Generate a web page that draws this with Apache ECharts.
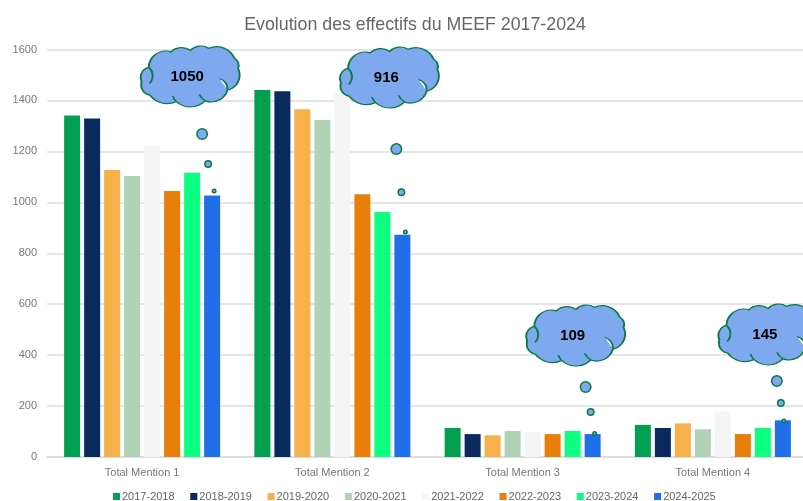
<!DOCTYPE html>
<html>
<head>
<meta charset="utf-8">
<title>Evolution des effectifs du MEEF</title>
<style>
  html, body { margin: 0; padding: 0; background: #fff; }
  #chart { width: 803px; height: 501px; }
</style>
<script src="https://cdn.jsdelivr.net/npm/echarts@6/dist/echarts.min.js"></script>
</head>
<body>
<div id="chart"></div>
<script>
const categories = ['Total Mention 1', 'Total Mention 2', 'Total Mention 3', 'Total Mention 4']
const years = ['2017-2018', '2018-2019', '2019-2020', '2020-2021', '2021-2022', '2022-2023', '2023-2024', '2024-2025']
const colors = ['#00a050', '#0a2a5e', '#f7b04a', '#b0d3b5', '#f5f5f5', '#e87f0a', '#0bff80', '#1f6fe8']

const v2017 = [1341, 1441, 114, 126]
const v2018 = [1329, 1436, 90, 114]
const v2019 = [1127, 1365, 85, 132]
const v2020 = [1103, 1323, 102, 109]
const v2021 = [1222, 1429, 97, 179]
const v2022 = [1044, 1032, 90, 90]
const v2023 = [1116, 962, 102, 114]
const v2024 = [1027, 873, 90, 144]
const allValues = [v2017, v2018, v2019, v2020, v2021, v2022, v2023, v2024]

const yTicks = { min: 0, max: 1600, interval: 200 }

// bulles : texte du nuage, hauteur sur l'axe, decalage par rapport a la derniere barre
const cloudLabels = ['1050', '916', '109', '145']
const cloudY = [1494, 1490, 477, 481]
const cloudDx = [-22, -13, -17, -15]
const bubbleY = [
  [1268, 1150, 1044],
  [1209, 1040, 883],
  [275, 177, 92],
  [298, 212, 141]
]
const bubbleDx = [
  [-10, -4, 2],
  [-6, -1, 3],
  [-7, -2, 2],
  [-6, -2, 1]
]
const bubbleSize = [10.5, 6.5, 3.5]

const cloudPath = 'path://M62 85A48 48 0 0 1 125 42A44 44 0 0 1 180 38A42 42 0 0 1 232 32A56 56 0 0 1 305 60A22 22 0 0 1 315 88' +
  'A42 42 0 0 1 285 148A48 48 0 0 1 222 178A60 60 0 0 1 140 180A62 62 0 0 1 65 162A28 28 0 0 1 42 125A28 28 0 0 1 62 85Z' +
  'M62 85A30 30 0 0 1 64 130M285 148A30 30 0 0 0 262 116M222 178A40 40 0 0 1 205 160M140 180A40 40 0 0 1 130 165'

const marks = []
categories.forEach((cat, i) => {
  marks.push({
    coord: [cat, cloudY[i]],
    symbol: cloudPath,
    symbolSize: [99, 61],
    symbolOffset: [cloudDx[i], 0],
    itemStyle: { color: '#7fa9ee', borderColor: '#0a7a48', borderWidth: 1.5 },
    label: {
      show: true, formatter: cloudLabels[i], position: 'inside', offset: [-3, 0],
      color: '#000', fontFamily: 'Liberation Sans', fontSize: 15, fontWeight: 'bold'
    }
  })
  bubbleY[i].forEach((y, j) => {
    marks.push({
      coord: [cat, y],
      symbol: 'circle',
      symbolSize: bubbleSize[j],
      symbolOffset: [bubbleDx[i][j], 0],
      itemStyle: { color: '#7fa9ee', borderColor: '#0a7a48', borderWidth: 1.5 },
      label: { show: false }
    })
  })
})

const series = years.map((name, i) => ({
  name, type: 'bar',
  data: allValues[i],
  barGap: '25%', barCategoryGap: '18%',
  itemStyle: { color: colors[i] },
  animation: false
}))
series[series.length - 1].markPoint = { silent: true, animation: false, data: marks }

const chart = echarts.init(document.getElementById('chart'), null, { renderer: 'canvas' })
chart.setOption({
  backgroundColor: '#fff',
  animation: false,
  textStyle: { fontFamily: 'Liberation Sans' },
  title: {
    text: 'Evolution des effectifs du MEEF 2017-2024',
    left: 410, top: 11, textAlign: 'center',
    textStyle: { color: '#666', fontSize: 17.8, fontWeight: 'normal', fontFamily: 'Liberation Sans' }
  },
  legend: {
    data: years, left: 108, top: 486,
    icon: 'rect', itemWidth: 7, itemHeight: 7, itemGap: 15.7,
    textStyle: { color: '#666', fontSize: 11, fontFamily: 'Liberation Sans', padding: [0, 0, 0, -3] }
  },
  grid: { left: 47, width: 761, top: 49.5, bottom: 44, outerBoundsMode: 'none' },
  xAxis: {
    type: 'category', data: categories,
    axisTick: { show: false },
    axisLine: { lineStyle: { color: '#dadada', width: 1.5 } },
    axisLabel: { color: '#777', fontSize: 11, margin: 10 }
  },
  yAxis: {
    type: 'value', min: yTicks.min, max: yTicks.max, interval: yTicks.interval,
    axisLine: { show: false }, axisTick: { show: false },
    splitLine: { lineStyle: { color: '#dcdcdc', width: 1.5 } },
    axisLabel: { color: '#777', fontSize: 11, margin: 10, formatter: v => String(v) }
  },
  series
})
</script>
</body>
</html>
